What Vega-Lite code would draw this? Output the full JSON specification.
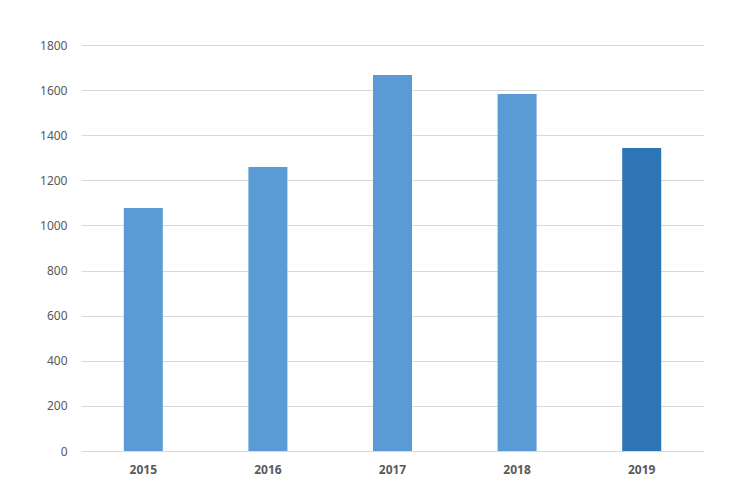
{
  "$schema": "https://vega.github.io/schema/vega-lite/v6.json",
  "width": 623,
  "height": 406,
  "autosize": {"type": "none"},
  "padding": {"left": 81, "top": 45, "right": 46, "bottom": 49},
  "background": "white",
  "config": {"view": {"stroke": null}, "font": "Noto Sans"},
  "data": {
    "values": [
      {"year": "2015", "value": 1077, "group": "a"},
      {"year": "2016", "value": 1259, "group": "a"},
      {"year": "2017", "value": 1667, "group": "a"},
      {"year": "2018", "value": 1583, "group": "a"},
      {"year": "2019", "value": 1343, "group": "b"}
    ]
  },
  "mark": {"type": "bar", "size": 39},
  "encoding": {
    "x": {
      "field": "year",
      "type": "nominal",
      "scale": {"paddingInner": 0, "paddingOuter": 0},
      "axis": {
        "title": null,
        "labelAngle": 0,
        "domain": false,
        "ticks": false,
        "labelFontSize": 12,
        "labelFontWeight": "bold",
        "labelColor": "#595959",
        "labelPadding": 13
      }
    },
    "y": {
      "field": "value",
      "type": "quantitative",
      "scale": {"domain": [0, 1800], "nice": false},
      "axis": {
        "title": null,
        "format": "d",
        "values": [0, 200, 400, 600, 800, 1000, 1200, 1400, 1600, 1800],
        "domain": false,
        "ticks": false,
        "gridColor": "#D9D9D9",
        "gridWidth": 1,
        "labelFontSize": 12,
        "labelColor": "#595959",
        "labelPadding": 14
      }
    },
    "color": {
      "field": "group",
      "type": "nominal",
      "scale": {"domain": ["a", "b"], "range": ["#5B9BD5", "#2E75B6"]},
      "legend": null
    }
  }
}
